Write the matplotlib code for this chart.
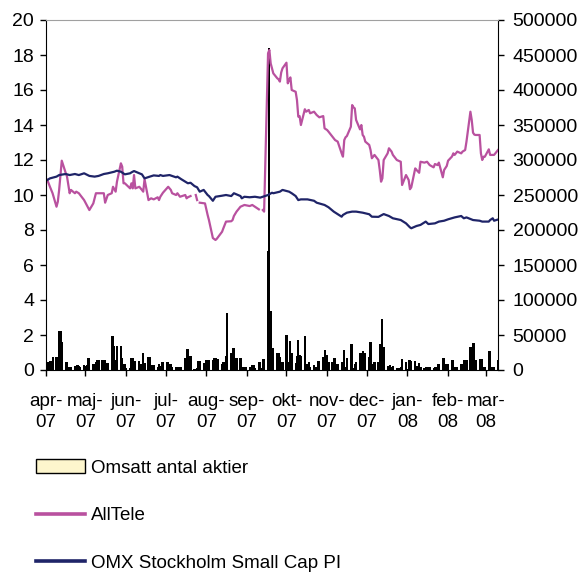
import matplotlib
matplotlib.use("Agg")
import matplotlib.pyplot as plt
from matplotlib.lines import Line2D
from matplotlib.patches import Patch
import numpy as np
import pandas as pd

plt.rcParams['font.family'] = ['Liberation Sans', 'DejaVu Sans']

nan = np.nan

# month ticks
month_starts = pd.date_range('2007-04-01', '2008-03-01', freq='MS')
month_labels = ['apr-\n07', 'maj-\n07', 'jun-\n07', 'jul-\n07', 'aug-\n07', 'sep-\n07',
                'okt-\n07', 'nov-\n07', 'dec-\n07', 'jan-\n08', 'feb-\n08', 'mar-\n08']

# traded volume, one value per weekday 2007-04-02 .. 2008-03-10
volume_dates = pd.bdate_range('2007-04-02', '2008-03-10')
volume = [
    # apr
    11000, 11000, 13000, 13000, 19000, 19000, 8000, 56000, 56000, 40000, 11000,
    11000, 5000, 4000, 4000, 6000, 5000, 7000, 6000, 4000, 7000,
    # maj
    6000, 7000, 17000, 17000, 8000, 8000, 12000, 15000, 15000, 15000, 14000, 15000,
    10000, 10000, 49000, 49000, 35000, 15000, 35000, 35000, 17000, 8000, 8000,
    # jun
    3000, 3000, 17500, 17500, 10000, 13000, 13000, 8000, 8000, 25000, 10000,
    18000, 18000, 7000, 7000, 7000, 5000, 8000, 6000, 11000, 11000,
    # jul
    12000, 12000, 8000, 8000, 5000, 5000, 4000, 5000, 4000, 5000, 17000,
    30000, 30000, 20000, 20000, 1500, 2000, 3000, 13000, 13000, 10000, 3000,
    # aug
    15000, 15000, 14000, 15000, 17000, 17000, 16000, 16000, 8000, 12000, 12000, 20000,
    81000, 24000, 31000, 31000, 5000, 17000, 17000, 3000, 5000, 5000, 5000,
    # sep
    4000, 4000, 7000, 7000, 3000, 12000, 12000, 3000, 16000, 16000,
    170000, 460000, 85000, 32000, 31000, 25000, 25000, 19000, 10000, 12000,
    # okt
    50000, 12000, 12000, 41000, 25000, 10000, 20000, 43000, 22000, 20000, 48000, 8000,
    8000, 12000, 4000, 7500, 4000, 4000, 13000, 13000, 19000, 28000, 22000,
    # nov
    22000, 12000, 12000, 17000, 17000, 8000, 8000, 12000, 10000, 29000, 5000,
    17000, 37000, 37000, 3000, 8000, 11000, 24000, 24000, 27000, 24000, 24000,
    # dec
    18000, 40000, 8000, 8000, 11000, 11000, 37000, 37000, 73000, 33000, 6000,
    5000, 7000, 5000, 6000, 3000, 2000, 3000, 5000, 16000, 12000,
    # jan
    2000, 15000, 15000, 13000, 13000, 6000, 6000, 10000, 4000, 3000, 5000, 3000,
    4000, 5000, 3000, 4000, 5000, 8000, 8000, 17500, 17500, 8000, 8000,
    # feb
    8000, 14000, 14000, 5000, 5000, 5000, 9000, 9000, 14000, 14000, 14000,
    33000, 33000, 38000, 38000, 14000, 16000, 16000, 16000, 5000, 5000,
    # mar
    27000, 27000, 5000, 5000, 5000, 14000,
]

alltele_dates = [
    '2007-04-02', '2007-04-04', '2007-04-06', '2007-04-09', '2007-04-10', '2007-04-11',
    '2007-04-13', '2007-04-16', '2007-04-17', '2007-04-19', '2007-04-20', '2007-04-23',
    '2007-04-24', '2007-04-26', '2007-04-27', '2007-04-30',
    '2007-05-04', '2007-05-07', '2007-05-09', '2007-05-11', '2007-05-15', '2007-05-16',
    '2007-05-18', '2007-05-21', '2007-05-22', '2007-05-24', '2007-05-25', '2007-05-28',
    '2007-05-29', '2007-05-30', '2007-05-31',
    '2007-06-04', '2007-06-05', '2007-06-06', '2007-06-07', '2007-06-08', '2007-06-11',
    '2007-06-13', '2007-06-14', '2007-06-15', '2007-06-18', '2007-06-20', '2007-06-22',
    '2007-06-25', '2007-06-26', '2007-06-27', '2007-06-29',
    '2007-07-02', '2007-07-03', '2007-07-05', '2007-07-06', '2007-07-09', '2007-07-10',
    '2007-07-12', '2007-07-16', '2007-07-17', '2007-07-18', '2007-07-20', '2007-07-23',
    '2007-07-24', '2007-07-25', '2007-07-26', '2007-07-27', '2007-07-31',
    '2007-08-02', '2007-08-03', '2007-08-06', '2007-08-08', '2007-08-09', '2007-08-10',
    '2007-08-13', '2007-08-14', '2007-08-16', '2007-08-20', '2007-08-21', '2007-08-22',
    '2007-08-24', '2007-08-27', '2007-08-30',
    '2007-09-03', '2007-09-05', '2007-09-07', '2007-09-10', '2007-09-11', '2007-09-13',
    '2007-09-14', '2007-09-17', '2007-09-18', '2007-09-19', '2007-09-21', '2007-09-24',
    '2007-09-25', '2007-09-26', '2007-09-27', '2007-09-28',
    '2007-10-01', '2007-10-02', '2007-10-03', '2007-10-04', '2007-10-05', '2007-10-08',
    '2007-10-09', '2007-10-10', '2007-10-11', '2007-10-12', '2007-10-15', '2007-10-16',
    '2007-10-18', '2007-10-19', '2007-10-22', '2007-10-24', '2007-10-26', '2007-10-29',
    '2007-10-30',
    '2007-11-01', '2007-11-02', '2007-11-05', '2007-11-07', '2007-11-09', '2007-11-12',
    '2007-11-13', '2007-11-14', '2007-11-15', '2007-11-16', '2007-11-19', '2007-11-20',
    '2007-11-21', '2007-11-22', '2007-11-23', '2007-11-26', '2007-11-27', '2007-11-28',
    '2007-11-29', '2007-11-30',
    '2007-12-03', '2007-12-04', '2007-12-05', '2007-12-07', '2007-12-10', '2007-12-11',
    '2007-12-12', '2007-12-13', '2007-12-14', '2007-12-17', '2007-12-18', '2007-12-20',
    '2007-12-21', '2007-12-24', '2007-12-27', '2007-12-28', '2007-12-31',
    '2008-01-02', '2008-01-03', '2008-01-04', '2008-01-07', '2008-01-08', '2008-01-10',
    '2008-01-11', '2008-01-14', '2008-01-16', '2008-01-18', '2008-01-21', '2008-01-22',
    '2008-01-24', '2008-01-25', '2008-01-28', '2008-01-29', '2008-01-31',
    '2008-02-01', '2008-02-04', '2008-02-05', '2008-02-06', '2008-02-08', '2008-02-11',
    '2008-02-12', '2008-02-14', '2008-02-15', '2008-02-18', '2008-02-19', '2008-02-20',
    '2008-02-21', '2008-02-22', '2008-02-25', '2008-02-26', '2008-02-27', '2008-02-28',
    '2008-02-29',
    '2008-03-03', '2008-03-04', '2008-03-05', '2008-03-06', '2008-03-07', '2008-03-10',
]
alltele = [
    10.86, 10.47, 10.1, 9.33, 9.62, 10.29, 11.96, 11.26, 11.05, 10.1, 10.29, 10.1,
    10.19, 10.1, 10.0, 9.71,
    9.14, 9.52, 10.1, 10.1, 10.1, 9.56, 10.0, 10.1, 10.47, 10.19, 10.76, 11.81,
    11.62, 10.67, 10.67,
    10.38, 10.67, 10.38, 11.14, 10.38, 10.47, 10.29, 10.19, 10.9, 9.71, 9.81, 9.75,
    9.87, 9.71, 9.9, 10.13,
    10.38, 10.47, 10.29, 10.1, 10.0, 10.1, 9.9, 10.0, 9.81, 9.87, 9.94, nan,
    10.0, 9.71, nan, 9.56, 9.52,
    8.86, 8.57, 7.54, 7.43, 7.5, 7.6, 7.9, 8.1, 8.48, 8.5, 8.57, 8.8,
    9.05, 9.33, 9.43,
    9.37, 9.43, 9.33, 9.18, nan, 9.14, 9.05, 18.1, 18.29, 17.52, 16.95, 16.67,
    16.61, 16.48, 17.0, 17.24,
    17.56, 16.38, 16.57, 16.72, 16.0, 15.9, 15.43, 14.48, 14.51, 14.0, 14.9, 14.76,
    14.86, 14.67, 14.76, 14.57, 14.44, 14.51, 13.81,
    13.71, 13.62, 13.33, 13.14, 13.05, 12.38, 12.19, 13.14, 13.3, 13.37, 13.9, 15.14,
    15.01, 14.95, 14.29, 13.75, 14.0, 13.43, 13.33, 13.05,
    12.86, 12.57, 12.1, 12.29, 12.0, 11.43, 10.76, 10.95, 12.0, 12.38, 12.67, 12.48,
    12.29, 12.0, 11.9, 10.57, 11.14,
    10.86, 10.33, 10.44, 11.52, 11.43, 11.27, 11.9, 11.85, 11.9, 11.71, 11.58, 11.77,
    11.71, 11.85, 11.01, 11.43, 11.66,
    11.96, 12.2, 12.38, 12.29, 12.48, 12.38, 12.48, 12.57, 13.05, 14.76, 14.29, 13.56,
    13.45, 13.43, 13.43, 12.38, 12.0, 12.19, 12.19,
    12.61, 12.29, 12.29, 12.29, 12.29, 12.57,
]

omx_dates = [
    '2007-04-02', '2007-04-04', '2007-04-09', '2007-04-11', '2007-04-16', '2007-04-19',
    '2007-04-23', '2007-04-26', '2007-04-30',
    '2007-05-04', '2007-05-08', '2007-05-11', '2007-05-15', '2007-05-18', '2007-05-23',
    '2007-05-25', '2007-05-28', '2007-05-31',
    '2007-06-04', '2007-06-05', '2007-06-07', '2007-06-11', '2007-06-13', '2007-06-15',
    '2007-06-19', '2007-06-22', '2007-06-26', '2007-06-27', '2007-06-29',
    '2007-07-04', '2007-07-09', '2007-07-10', '2007-07-13', '2007-07-18', '2007-07-20',
    '2007-07-23', '2007-07-25', '2007-07-27', '2007-07-30',
    '2007-08-02', '2007-08-03', '2007-08-06', '2007-08-08', '2007-08-13', '2007-08-16',
    '2007-08-20', '2007-08-22', '2007-08-27', '2007-08-28', '2007-08-30',
    '2007-09-03', '2007-09-07', '2007-09-11', '2007-09-13', '2007-09-17', '2007-09-20',
    '2007-09-21', '2007-09-26', '2007-09-28',
    '2007-10-03', '2007-10-05', '2007-10-08', '2007-10-10', '2007-10-12', '2007-10-17',
    '2007-10-22', '2007-10-24', '2007-10-30',
    '2007-11-02', '2007-11-06', '2007-11-12', '2007-11-13', '2007-11-16', '2007-11-20',
    '2007-11-23', '2007-11-28',
    '2007-12-03', '2007-12-05', '2007-12-10', '2007-12-14', '2007-12-18', '2007-12-21',
    '2007-12-27', '2007-12-31',
    '2008-01-03', '2008-01-04', '2008-01-08', '2008-01-11', '2008-01-15', '2008-01-17',
    '2008-01-22', '2008-01-25', '2008-01-29',
    '2008-02-01', '2008-02-06', '2008-02-11', '2008-02-13', '2008-02-15', '2008-02-20',
    '2008-02-25', '2008-02-27',
    '2008-03-03', '2008-03-04', '2008-03-06', '2008-03-07', '2008-03-10',
]
omx = [
    10.86, 10.95, 11.05, 11.14, 11.2, 11.14, 11.2, 11.14, 11.24,
    11.09, 11.05, 11.09, 11.2, 11.24, 11.33, 11.39, 11.33, 11.18,
    11.24, 11.29, 11.37, 11.24, 11.18, 10.95, 11.05, 11.12, 11.09, 11.14, 11.09,
    11.14, 11.01, 11.05, 10.9, 10.67, 10.7, 10.51, 10.44, 10.19, 10.29,
    10.0, 9.94, 9.67, 9.9, 9.96, 10.0, 9.94, 10.1, 9.94, 9.81, 9.9,
    9.87, 9.9, 9.85, 9.9, 10.0, 10.13, 10.1, 10.19, 10.29,
    10.19, 10.1, 9.94, 9.71, 9.75, 9.75, 9.67, 9.56, 9.43,
    9.3, 9.05, 8.76, 8.86, 8.99, 9.05, 9.05, 8.99,
    8.9, 8.76, 8.75, 8.91, 8.8, 8.67, 8.57, 8.38,
    8.15, 8.1, 8.23, 8.29, 8.48, 8.34, 8.38, 8.48, 8.53,
    8.61, 8.72, 8.8, 8.67, 8.72, 8.57, 8.53, 8.48,
    8.48, 8.57, 8.67, 8.53, 8.6,
]

left_ticks = [0, 2, 4, 6, 8, 10, 12, 14, 16, 18, 20]
right_ticks = [0, 50000, 100000, 150000, 200000, 250000, 300000, 350000, 400000, 450000, 500000]
legend_labels = ['Omsatt antal aktier', 'AllTele', 'OMX Stockholm Small Cap PI']

pink = '#b9519f'
navy = '#1f2468'
bg = '#eaecec'
fs = 13.5

fig = plt.figure(figsize=(5.85, 5.76), dpi=100)
ax = fig.add_axes([46 / 585, 1 - 370 / 576, 452 / 585, 350 / 576])
axr = ax.twinx()

# wider than one day so the weekday bars join up like the original
axr.bar(volume_dates, volume, width=1.6, color='black', linewidth=0)
axr.set_ylim(0, 500000)
axr.set_yticks(right_ticks)
axr.set_yticklabels([str(t) for t in right_ticks])
axr.patch.set_facecolor(bg)

ax.plot(pd.to_datetime(alltele_dates), alltele, color=pink, lw=1.6)
ax.plot(pd.to_datetime(omx_dates), omx, color=navy, lw=1.6)
ax.set_ylim(0, 20)
ax.set_yticks(left_ticks)
ax.set_zorder(axr.get_zorder() + 1)
ax.patch.set_visible(False)

ax.set_xlim(pd.Timestamp('2007-04-01'), pd.Timestamp('2008-03-10'))
ax.set_xticks(month_starts)
ax.set_xticklabels(month_labels, linespacing=1.3)

for a in (ax, axr):
    for s in a.spines.values():
        s.set_visible(False)
ax.spines['left'].set_visible(True)
ax.spines['bottom'].set_visible(True)
ax.spines['top'].set_visible(True)
ax.spines['top'].set_color('#a0a0a0')
axr.spines['right'].set_visible(True)
for s in ('left', 'bottom'):
    ax.spines[s].set_color('black')
axr.spines['right'].set_color('black')

ax.tick_params(axis='y', direction='out', length=4.5, width=1, labelsize=14, pad=4)
ax.tick_params(axis='x', direction='out', length=4.5, width=1, labelsize=fs, pad=12)
axr.tick_params(axis='y', direction='out', length=4.5, width=1, labelsize=14, pad=6)

handles = [Patch(facecolor='#fdf6cd', edgecolor='black', linewidth=1),
           Line2D([], [], color=pink, lw=2.6),
           Line2D([], [], color=navy, lw=2.6)]
fig.legend(handles, legend_labels, loc='upper left', bbox_to_anchor=(36 / 585, 1 - 459 / 576),
           frameon=False, fontsize=fs, handlelength=2.6, handleheight=0.8,
           handletextpad=0.35, labelspacing=1.6, borderpad=0, borderaxespad=0)

fig.savefig('out.png', dpi=100)
